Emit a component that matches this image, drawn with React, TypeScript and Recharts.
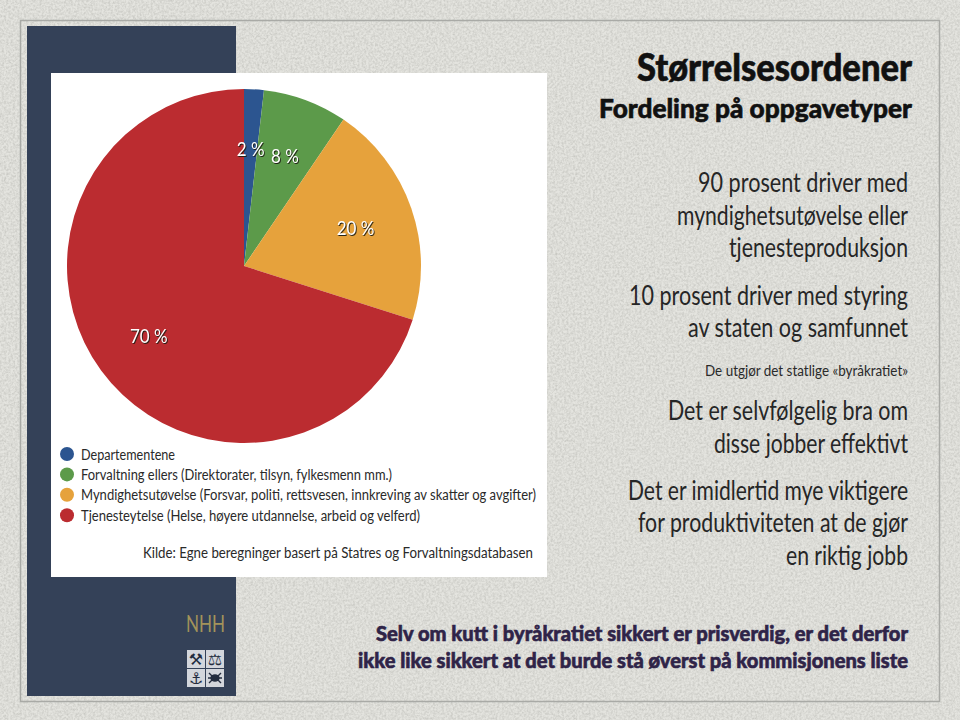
import { PieChart, Pie, Cell, Legend } from "recharts";

const categories = [
  "Departementene",
  "Forvaltning ellers (Direktorater, tilsyn, fylkesmenn mm.)",
  "Myndighetsutøvelse (Forsvar, politi, rettsvesen, innkreving av skatter og avgifter)",
  "Tjenesteytelse (Helse, høyere utdannelse, arbeid og velferd)",
];
// slices as drawn in the picture, the labels round them to 2, 8, 20 and 70
const shares = [1.8, 7.7, 20.4, 70.1];
const sliceColors = ["#2c5590", "#5c9a4a", "#e6a23c", "#bb2c30"];
const legendWidths = [94, 311, 455, 339];

const chartData = categories.map((name, i) => ({ name, value: shares[i] }));

const FONT = "Lato, 'Liberation Sans', sans-serif";
const SMALL_INK = "#2a2a2a";

// x, baseline, width, size, text
const bodyLines: [number, number, number, number, string][] = [
  [698, 192, 210, 26, "90 prosent driver med"],
  [677, 225, 231, 26, "myndighetsutøvelse eller"],
  [729, 257, 179, 26, "tjenesteproduksjon"],
  [629, 305, 279, 26, "10 prosent driver med styring"],
  [688, 337, 220, 26, "av staten og samfunnet"],
  [705, 376, 203, 16, "De utgjør det statlige «byråkratiet»"],
  [668, 420, 240, 26, "Det er selvfølgelig bra om"],
  [714, 453, 194, 26, "disse jobber effektivt"],
  [628, 500, 280, 26, "Det er imidlertid mye viktigere"],
  [638, 532, 270, 26, "for produktiviteten at de gjør"],
  [786, 565, 122, 26, "en riktig jobb"],
];

const headLines: [number, number, number, number, string, string][] = [
  [637, 81, 275, 37, "Størrelsesordener", "#111111"],
  [599, 118, 313, 26, "Fordeling på oppgavetyper", "#111111"],
  [376, 641, 532, 21, "Selv om kutt i byråkratiet sikkert er prisverdig, er det derfor", "#2f2448"],
  [358, 668, 550, 21, "ikke like sikkert at det burde stå øverst på kommisjonens liste", "#2f2448"],
];

const crest = ["⚒", "⚖", "⚓", ""];

function Fit({ x, y, w, size, sx = 0.82, children, ...rest }: any) {
  return (
    <text
      transform={`translate(${x} ${y}) scale(${sx} 1)`}
      fontSize={size}
      textLength={w / sx}
      lengthAdjust="spacingAndGlyphs"
      {...rest}
    >
      {children}
    </text>
  );
}

function SliceLabel({ cx, cy, midAngle, outerRadius, value }: any) {
  const r = outerRadius * (2 / 3);
  const a = (-midAngle * Math.PI) / 180;
  return (
    <text
      transform={`translate(${cx + r * Math.cos(a)} ${cy + r * Math.sin(a)}) scale(0.85 1)`}
      textAnchor="middle"
      dominantBaseline="central"
      fontFamily={FONT}
      fontWeight={400}
      fontSize={20}
      fill="#ffffff"
      style={{ filter: "drop-shadow(1px 1px 0.4px rgba(30,30,20,0.95))" }}
    >
      {Math.round(value)} %
    </text>
  );
}

function LegendRows({ payload }: any) {
  return (
    <svg width={540} height={96} style={{ display: "block" }}>
      {(payload ?? []).map((p: any, i: number) => (
        <g key={p.value} transform={`translate(0 ${6 + i * 20.4})`}>
          <circle cx={8} cy={8} r={7} fill={p.color} />
          <Fit x={22} y={13.5} w={legendWidths[i]} size={16} sx={0.85} fontFamily={FONT} fontWeight={400} fill={SMALL_INK}>
            {p.value}
          </Fit>
        </g>
      ))}
    </svg>
  );
}

export default function App() {
  return (
    <div style={{ position: "fixed", left: 0, top: 0, width: 960, height: 720, overflow: "hidden" }}>
      <svg width={960} height={720} style={{ position: "absolute", left: 0, top: 0 }}>
        <defs>
          <filter id="grain" x="0" y="0" width="100%" height="100%">
            <feTurbulence type="fractalNoise" baseFrequency="0.45" numOctaves={4} seed={4} />
            <feColorMatrix values="0 0 0 0 0.45  0 0 0 0 0.45  0 0 0 0 0.42  1.0 0 0 0 -0.33" />
          </filter>
        </defs>
        <rect width={960} height={720} fill="#e4e4df" />
        <rect width={960} height={720} filter="url(#grain)" />
        <rect x={20.5} y={20.5} width={919} height={681} fill="none" stroke="#a9aaa6" strokeWidth={1.5} />
        <rect x={27} y={26} width={209} height={670} fill="#344158" />
        <rect x={51} y={73} width={496} height={504} fill="#ffffff" />

        <Fit x={143} y={558} w={390} size={16} sx={0.85} fontFamily={FONT} fontWeight={400} fill={SMALL_INK}>
          Kilde: Egne beregninger basert på Statres og Forvaltningsdatabasen
        </Fit>

        <Fit x={186} y={632} w={39} size={24} sx={0.9} fontFamily={FONT} fill="#a3935a">
          NHH
        </Fit>
        {crest.map((g, i) => {
          const x = 187 + (i % 2) * 19;
          const y = 650 + Math.floor(i / 2) * 19;
          return (
            <g key={i}>
              <rect x={x} y={y} width={18} height={18} fill="#d3d6dc" />
              {g ? (
                <text x={x + 9} y={y + 15} textAnchor="middle" fontFamily="DejaVu Sans" fontWeight={700} fontSize={16} fill="#232c3f">
                  {g}
                </text>
              ) : (
                <g stroke="#232c3f" strokeWidth={1.4} fill="#232c3f">
                  <ellipse cx={x + 9} cy={y + 9} rx={4} ry={3} />
                  <path
                    d={`M${x + 3} ${y + 4}L${x + 7} ${y + 8}M${x + 15} ${y + 4}L${x + 11} ${y + 8}M${x + 3} ${y + 14}L${x + 7} ${y + 10}M${x + 15} ${y + 14}L${x + 11} ${y + 10}M${x + 2} ${y + 9}H${x + 16}`}
                    fill="none"
                  />
                </g>
              )}
            </g>
          );
        })}

        {headLines.map(([x, y, w, size, text, fill]) => (
          <Fit
            key={text}
            x={x}
            y={y}
            w={w}
            size={size}
            sx={size > 30 ? 0.8 : 0.84}
            fontFamily={FONT}
            fontWeight={900}
            fill={fill}
            stroke={fill}
            strokeWidth={0.6}
          >
            {text}
          </Fit>
        ))}
        {bodyLines.map(([x, y, w, size, text]) => (
          <Fit key={text} x={x} y={y} w={w} size={size} sx={0.84} fontFamily={FONT} fontWeight={400} fill={size > 20 ? "#262626" : SMALL_INK}>
            {text}
          </Fit>
        ))}
      </svg>

      <div style={{ position: "absolute", left: 0, top: 0 }}>
        <PieChart width={960} height={720} margin={{ top: 0, right: 0, bottom: 0, left: 0 }}>
          <Pie
            data={chartData}
            dataKey="value"
            nameKey="name"
            cx={244}
            cy={266}
            outerRadius={177}
            startAngle={90}
            endAngle={-270}
            stroke="none"
            labelLine={false}
            label={SliceLabel}
            isAnimationActive={false}
          >
            {chartData.map((d, i) => (
              <Cell key={d.name} fill={sliceColors[i]} />
            ))}
          </Pie>
          <Legend
            content={LegendRows}
            wrapperStyle={{ left: 59, top: 440, width: 540, bottom: "auto", right: "auto" }}
          />
        </PieChart>
      </div>
    </div>
  );
}
